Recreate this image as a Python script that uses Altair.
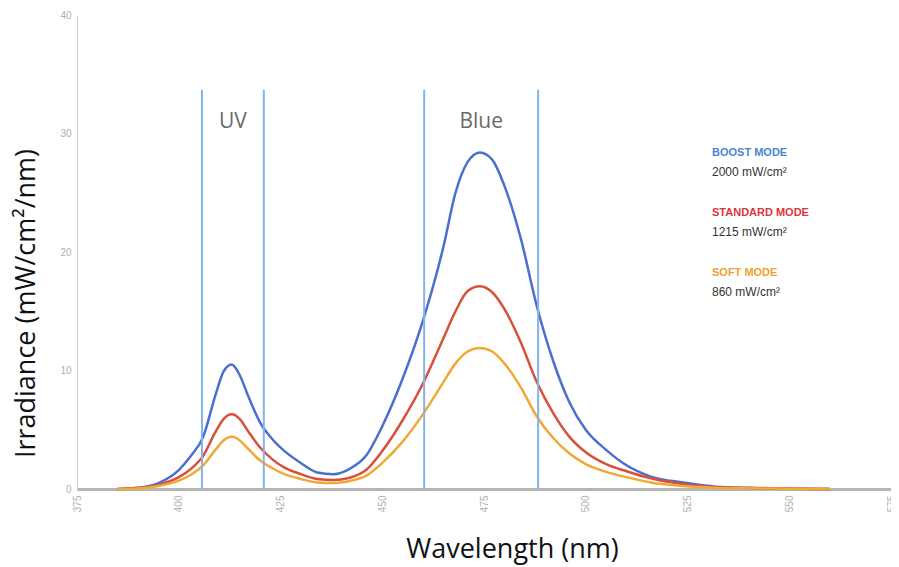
import altair as alt
import pandas as pd

wavelength = [385, 390, 395, 400, 403, 406, 409, 411, 413, 415, 417, 420, 423, 426, 430,
              434, 438, 442, 446, 450, 455, 460, 465, 468, 471, 474, 477, 480, 484, 488,
              492, 496, 500, 505, 510, 516, 524, 532, 540, 550, 560]
boost = [0, 0.1, 0.5, 1.6, 2.8, 4.4, 7.9, 9.9, 10.5, 9.6, 7.9, 5.6, 4.2, 3.2, 2.2,
         1.4, 1.25, 1.7, 2.8, 5.3, 9.3, 14.2, 20.4, 25.0, 27.6, 28.4, 27.8, 25.6, 21.2, 15.4,
         10.8, 7.3, 5.0, 3.3, 2.0, 1.05, 0.55, 0.2, 0.1, 0.04, 0]
standard = [0, 0.08, 0.35, 1.0, 1.7, 2.8, 4.8, 5.9, 6.3, 5.9, 4.9, 3.5, 2.5, 1.8, 1.25,
            0.85, 0.76, 0.95, 1.6, 3.2, 5.8, 8.9, 12.7, 15.0, 16.7, 17.1, 16.6, 15.2, 12.4, 9.0,
            6.4, 4.4, 3.1, 2.1, 1.5, 0.9, 0.4, 0.15, 0.08, 0.03, 0]
soft = [0, 0.05, 0.25, 0.7, 1.2, 2.0, 3.3, 4.1, 4.4, 4.1, 3.4, 2.4, 1.75, 1.25, 0.85,
        0.55, 0.5, 0.68, 1.1, 2.2, 4.0, 6.3, 9.0, 10.6, 11.6, 11.9, 11.6, 10.6, 8.6, 6.1,
        4.3, 3.0, 2.1, 1.45, 1.0, 0.55, 0.25, 0.11, 0.06, 0.03, 0]

modes = ["BOOST MODE", "STANDARD MODE", "SOFT MODE"]
powers = ["2000 mW/cm²", "1215 mW/cm²", "860 mW/cm²"]
colors = ["#4a6fcf", "#d9503a", "#f2a833"]
label_colors = ["#4a86cf", "#d9363e", "#f0a030"]

band_edges = [405.7, 420.9, 460.3, 488.3]
band_top = 33.7
band_names = ["UV", "Blue"]
band_centers = [413.3, 474.3]
band_label_y = 31.0

x_ticks = [375, 400, 425, 450, 475, 500, 525, 550, 575]
y_ticks = [0, 10, 20, 30, 40]

rows = []
for name, series in zip(modes, [boost, standard, soft]):
    for w, v in zip(wavelength, series):
        rows.append({"wl": w, "val": v, "mode": name})
df = pd.DataFrame(rows)

xscale = alt.Scale(domain=[375, 575], nice=False, zero=False)
yscale = alt.Scale(domain=[0, 40], nice=False)

base_x = alt.X("wl:Q", scale=xscale,
               axis=alt.Axis(values=x_ticks, labelAngle=270, labelAlign="right",
                             labelBaseline="middle", labelPadding=6, labelFontSize=10,
                             labelColor="#b0b0b0", ticks=False, grid=False,
                             domainColor="#b5b5b5", domainWidth=3,
                             title="Wavelength (nm)", titleFontSize=27,
                             titleFontWeight="normal", titleFont="Open Sans",
                             titleColor="#111111", titleX=435, titleY=60,
                             titleAlign="center", titleBaseline="middle",
                             labelFlush=False, labelOverlap=False))
base_y = alt.Y("val:Q", scale=yscale,
               axis=alt.Axis(values=y_ticks, labelFontSize=10, labelColor="#b0b0b0",
                             ticks=False, grid=False, domainColor="#cccccc",
                             domainWidth=1, labelPadding=6,
                             title="Irradiance (mW/cm²/nm)", titleFontSize=27,
                             titleFontWeight="normal", titleFont="Open Sans",
                             titleColor="#111111", titleX=-51, titleY=288,
                             titleAlign="center", titleBaseline="middle"))

lines = alt.Chart(df).mark_line(strokeWidth=2.5, interpolate="monotone").encode(
    x=base_x, y=base_y,
    color=alt.Color("mode:N", scale=alt.Scale(domain=modes, range=colors), legend=None),
    order=alt.Order("wl:Q"),
)

bands = alt.Chart(pd.DataFrame({"wl": band_edges})).mark_rule(
    color="#86b2ea", strokeWidth=2).encode(
    x=alt.X("wl:Q"),
    y=alt.datum(0),
    y2=alt.datum(band_top),
)

band_labels = alt.Chart(pd.DataFrame({"wl": band_centers, "name": band_names,
                                      "val": [band_label_y] * 2})).mark_text(
    fontSize=21, font="Open Sans", color="#6a6a6a", baseline="middle", align="center").encode(
    x=alt.X("wl:Q"), y=alt.Y("val:Q"), text="name:N")

legend_layers = []
for i, (m, p, c) in enumerate(zip(modes, powers, label_colors)):
    legend_layers.append(
        alt.Chart(pd.DataFrame({"t": [m]})).mark_text(
            fontSize=11, fontWeight="bold", font="Liberation Sans", align="left",
            baseline="middle", color=c).encode(
            x=alt.value(635), y=alt.value(138 + 60 * i), text="t:N"))
    legend_layers.append(
        alt.Chart(pd.DataFrame({"t": [p]})).mark_text(
            fontSize=12, font="Liberation Sans", align="left",
            baseline="middle", color="#333333").encode(
            x=alt.value(635), y=alt.value(157 + 60 * i), text="t:N"))

chart = alt.layer(lines, bands, band_labels, *legend_layers).properties(
    width=814, height=474,
    background="white",
    autosize=alt.AutoSizeParams(type="none"),
    padding={"left": 69, "top": 7, "right": 0, "bottom": 76},
).configure_view(strokeWidth=0, stroke="transparent")

chart.save("out.html", embed_options={"renderer": "svg", "actions": False})
